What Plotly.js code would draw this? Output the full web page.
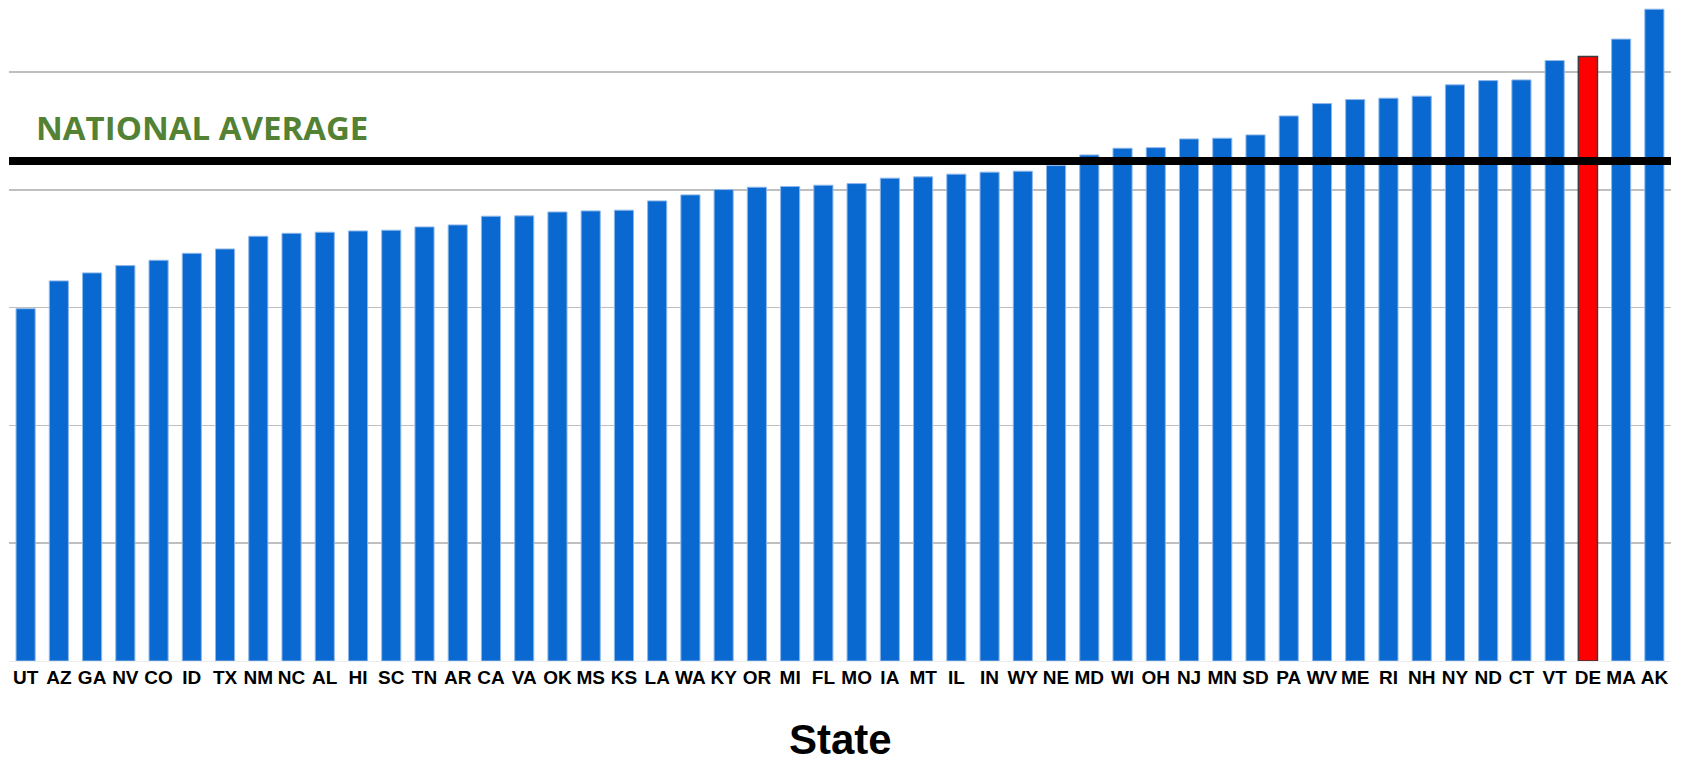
<!DOCTYPE html>
<html>
<head>
<meta charset="utf-8">
<script src="https://cdn.plot.ly/plotly-3.0.1.min.js"></script>
<style>html,body{margin:0;padding:0;background:#fff;}#chart{width:1681px;height:766px;}</style>
</head>
<body>
<div id="chart"></div>
<script>
const states = ["UT","AZ","GA","NV","CO","ID","TX","NM","NC","AL","HI","SC","TN","AR","CA","VA","OK","MS","KS","LA","WA","KY","OR","MI","FL","MO","IA","MT","IL","IN","WY","NE","MD","WI","OH","NJ","MN","SD","PA","WV","ME","RI","NH","NY","ND","CT","VT","DE","MA","AK"];
const values = [29.9,32.26,32.94,33.56,34.01,34.6,34.97,36.05,36.3,36.39,36.5,36.56,36.84,37.01,37.75,37.78,38.11,38.2,38.26,39.05,39.56,40.01,40.21,40.27,40.38,40.52,40.98,41.09,41.32,41.49,41.57,42.05,42.95,43.52,43.57,44.31,44.37,44.65,46.26,47.31,47.65,47.77,47.94,48.9,49.26,49.32,50.96,51.3,52.78,55.32];
const highlightState = "DE";
const nationalAverage = 42.44;
const averageLabel = "NATIONAL AVERAGE";
const xTitle = "State";

const barColors = states.map(s => s === highlightState ? "#FF0000" : "#0A69D1");
const edgeColors = states.map(s => s === highlightState ? "#3c3c3c" : "#8fb8ea");
const edgeWidths = states.map(s => s === highlightState ? 1.5 : 1);

const trace = {
  type: "bar",
  x: states,
  y: values,
  marker: {color: barColors, line: {color: edgeColors, width: edgeWidths}},
  hoverinfo: "x+y"
};

const layout = {
  width: 1681, height: 766,
  margin: {l: 9, r: 10, t: 0, b: 105},
  paper_bgcolor: "#fff", plot_bgcolor: "#fff",
  bargap: 0.425,
  showlegend: false,
  xaxis: {
    type: "category",
    tickfont: {family: "Liberation Sans, Arial, sans-serif", size: 19, color: "#000", weight: "bold"},
    ticks: "", showline: false, showgrid: false,
    ticklabelstandoff: 3,
    automargin: false
  },
  yaxis: {
    range: [0, 56.1],
    dtick: 10, tick0: 0,
    showticklabels: false, ticks: "",
    gridcolor: "#bfbfbf", gridwidth: 1.6,
    zeroline: true, zerolinecolor: "#ececec", zerolinewidth: 1,
    automargin: false
  },
  shapes: [{
    type: "line", xref: "paper", x0: 0, x1: 1, yref: "y", y0: nationalAverage, y1: nationalAverage,
    line: {color: "#000", width: 8}, layer: "above"
  }],
  annotations: [{
    text: "<b>" + averageLabel + "</b>", xref: "paper", x: 0, xanchor: "left", xshift: 25,
    yref: "y", y: nationalAverage, yanchor: "bottom", yshift: 9, showarrow: false,
    font: {family: "Open Sans, sans-serif", size: 33, color: "#548235"}
  }, {
    text: "<b>" + xTitle + "</b>", xref: "paper", x: 0.5, xanchor: "center",
    yref: "paper", y: 0, yanchor: "bottom", yshift: -104, showarrow: false,
    font: {family: "Liberation Sans, Arial, sans-serif", size: 42, color: "#000"}
  }]
};

Plotly.newPlot("chart", [trace], layout, {displayModeBar: false, staticPlot: true});
</script>
</body>
</html>
